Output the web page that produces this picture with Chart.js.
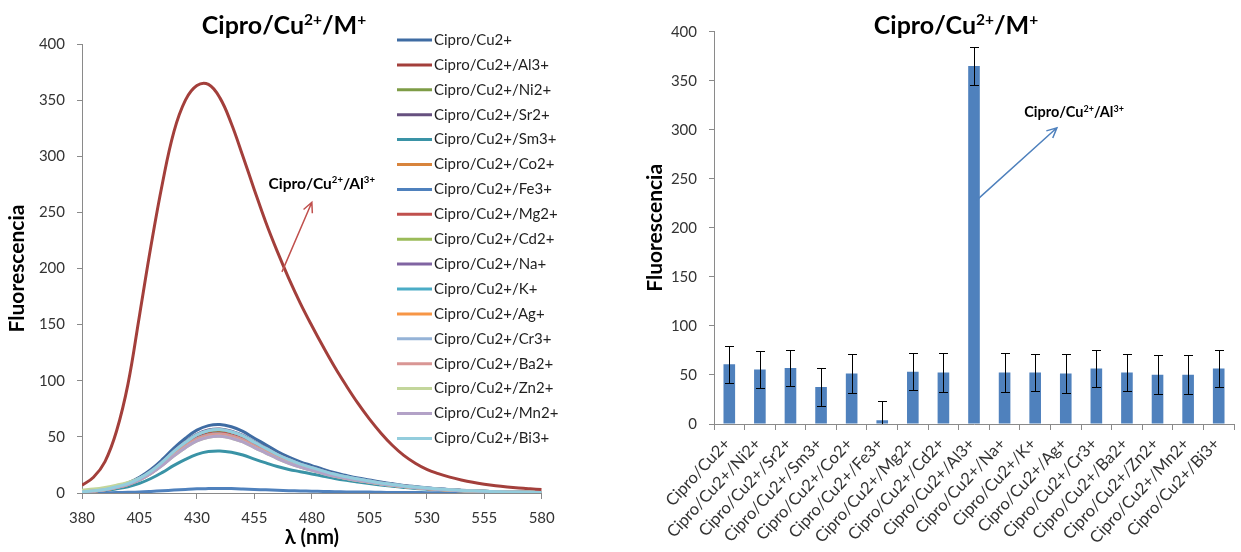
<!DOCTYPE html>
<html>
<head>
<meta charset="utf-8">
<script src="https://cdn.jsdelivr.net/npm/chart.js@4.4.1/dist/chart.umd.min.js"></script>
<style>
  html, body { margin: 0; padding: 0; background: #fff; }
  #wrap { position: relative; width: 1241px; height: 552px; overflow: hidden; }
  .box { position: absolute; top: 0; height: 552px; }
  #left { left: 0; width: 600px; }
  #right { left: 630px; width: 611px; }
</style>
</head>
<body>
<div id="wrap">
  <div class="box" id="left"><canvas id="spectraChart"></canvas></div>
  <div class="box" id="right"><canvas id="barChart"></canvas></div>
</div>
<script>
// ---------- data : emission spectra (left) ----------
const wavelengths = [380, 385, 390, 395, 400, 405, 410, 415, 420, 425, 430, 435, 440, 445, 450, 455, 460, 465, 470, 475,
  480, 485, 490, 495, 500, 505, 510, 515, 520, 525, 530, 535, 540, 545, 550, 555, 560, 565, 570, 575, 580];
const lambdaTicks = [380, 405, 430, 455, 480, 505, 530, 555, 580];
const fluoTicks = [0, 50, 100, 150, 200, 250, 300, 350, 400];

const cuSpec = [1.0, 2.0, 3.5, 6.0, 9.0, 14.0, 21.0, 29.9, 40.0, 48.8, 56.0, 60.0, 61.0, 59.0, 54.9, 48.8, 43.0, 37.0, 32.0, 27.8,
  24.4, 21.0, 18.0, 15.6, 13.4, 11.6, 9.8, 8.2, 6.8, 5.7, 4.7, 3.8, 3.1, 2.5, 2.0, 1.6, 1.3, 1.0, 0.9, 0.7, 0.5];
const alSpec = [7, 14, 28, 55, 97, 158, 220, 276, 322, 350, 363, 364, 352, 329, 300, 270, 241, 215, 191, 169,
  149, 130, 112, 95.5, 80, 66, 53.5, 42.5, 33.5, 26.5, 21, 17.2, 14.1, 11.6, 9.5, 7.8, 6.4, 5.3, 4.4, 3.7, 3.1];
const niSpec = [0.9, 1.8, 3.2, 5.4, 8.2, 12.8, 19.1, 27.2, 36.4, 44.4, 50.9, 54.6, 55.5, 53.7, 50.0, 44.4, 39.1, 33.7, 29.1, 25.3,
  22.2, 19.1, 16.4, 14.2, 12.2, 10.5, 8.9, 7.5, 6.2, 5.2, 4.3, 3.5, 2.8, 2.3, 1.8, 1.5, 1.2, 0.9, 0.8, 0.6, 0.5];
const srSpec = [0.9, 1.9, 3.2, 5.6, 8.4, 13.1, 19.6, 27.9, 37.4, 45.6, 52.3, 56.1, 57.0, 55.1, 51.3, 45.6, 40.2, 34.6, 29.9, 25.9,
  22.8, 19.7, 16.8, 14.5, 12.5, 10.8, 9.1, 7.7, 6.4, 5.3, 4.4, 3.6, 2.9, 2.3, 1.9, 1.5, 1.3, 1.0, 0.8, 0.6, 0.5];
const smSpec = [0.6, 1.2, 2.1, 3.7, 5.6, 8.6, 12.9, 18.4, 24.6, 30.0, 34.4, 36.9, 37.5, 36.3, 33.8, 30.2, 26.8, 23.6, 21.0, 19.0,
  17.0, 15.0, 13.0, 11.3, 9.8, 8.4, 7.1, 6.0, 5.0, 4.1, 3.4, 2.8, 2.2, 1.8, 1.4, 1.1, 0.9, 0.7, 0.6, 0.4, 0.3];
const coSpec = [0.8, 1.7, 2.9, 5.0, 7.6, 11.8, 17.7, 25.2, 33.8, 41.2, 47.3, 50.7, 51.5, 49.8, 46.4, 41.2, 36.3, 31.3, 27.0, 23.4,
  20.6, 17.8, 15.2, 13.1, 11.3, 9.8, 8.2, 7.0, 5.8, 4.8, 4.0, 3.2, 2.6, 2.1, 1.7, 1.4, 1.1, 0.9, 0.7, 0.6, 0.5];
const feSpec = [0, 0.1, 0.2, 0.4, 0.6, 0.9, 1.4, 2.0, 2.6, 3.2, 3.7, 3.9, 4.0, 3.9, 3.6, 3.2, 2.8, 2.4, 2.1, 1.8,
  1.6, 1.4, 1.2, 1.0, 0.9, 0.8, 0.6, 0.5, 0.4, 0.4, 0.3, 0.3, 0.2, 0.2, 0.1, 0.1, 0.1, 0.1, 0.1, 0, 0];
const mgSpec = [0.9, 1.8, 3.0, 5.2, 7.9, 12.3, 18.4, 26.2, 35.1, 42.8, 49.1, 52.6, 53.5, 51.7, 48.2, 42.8, 37.7, 32.5, 28.1, 24.3,
  21.4, 18.5, 15.8, 13.6, 11.8, 10.2, 8.6, 7.2, 6.0, 5.0, 4.1, 3.4, 2.7, 2.2, 1.8, 1.4, 1.2, 0.9, 0.7, 0.6, 0.5];
const cdSpec = [0.8, 1.7, 3.0, 5.1, 7.8, 12.1, 18.1, 25.7, 34.4, 42.0, 48.2, 51.7, 52.5, 50.8, 47.3, 42.0, 37.0, 31.9, 27.6, 23.9,
  21.0, 18.1, 15.5, 13.4, 11.6, 10.0, 8.4, 7.1, 5.9, 4.9, 4.0, 3.3, 2.7, 2.2, 1.7, 1.4, 1.2, 0.9, 0.7, 0.6, 0.5];
const naSpec = [0.8, 1.7, 3.0, 5.1, 7.8, 12.1, 18.0, 25.6, 34.4, 42.0, 48.3, 51.8, 52.5, 50.8, 47.2, 42.0, 37.0, 31.9, 27.6, 23.9,
  21.0, 18.1, 15.5, 13.4, 11.6, 10.0, 8.4, 7.1, 5.9, 4.9, 4.0, 3.3, 2.7, 2.2, 1.7, 1.4, 1.2, 0.9, 0.7, 0.6, 0.5];
const kSpec = [0.8, 1.7, 3.0, 5.1, 7.8, 12.2, 18.1, 25.8, 34.5, 42.1, 48.2, 51.7, 52.4, 50.7, 47.3, 42.1, 37.0, 31.9, 27.6, 23.9,
  21.0, 18.1, 15.5, 13.4, 11.6, 10.0, 8.4, 7.1, 5.9, 4.9, 4.0, 3.3, 2.7, 2.2, 1.7, 1.4, 1.2, 0.9, 0.7, 0.6, 0.5];
const agSpec = [0.8, 1.7, 2.9, 5.0, 7.6, 11.8, 17.7, 25.2, 33.8, 41.2, 47.3, 50.7, 51.4, 49.8, 46.4, 41.2, 36.3, 31.3, 27.0, 23.4,
  20.6, 17.8, 15.2, 13.1, 11.3, 9.8, 8.2, 7.0, 5.8, 4.8, 4.0, 3.2, 2.6, 2.1, 1.7, 1.4, 1.1, 0.9, 0.7, 0.6, 0.5];
const crSpec = [0.9, 1.9, 3.2, 5.5, 8.4, 13.0, 19.4, 27.7, 37.1, 45.2, 51.9, 55.6, 56.5, 54.6, 50.9, 45.2, 39.8, 34.3, 29.7, 25.7,
  22.6, 19.5, 16.7, 14.4, 12.4, 10.7, 9.0, 7.6, 6.3, 5.3, 4.4, 3.6, 2.9, 2.3, 1.9, 1.5, 1.2, 1.0, 0.8, 0.6, 0.5];
const baSpec = [0.8, 1.7, 3.0, 5.1, 7.8, 12.1, 18.1, 25.7, 34.4, 42.0, 48.2, 51.7, 52.5, 50.8, 47.3, 42.0, 37.0, 31.9, 27.6, 23.9,
  21.0, 18.1, 15.5, 13.4, 11.6, 10.0, 8.4, 7.1, 5.9, 4.9, 4.0, 3.3, 2.7, 2.2, 1.7, 1.4, 1.2, 0.9, 0.7, 0.6, 0.5];
const znSpec = [2.5, 3.5, 5.0, 7.0, 9.5, 13.0, 18.0, 25.0, 33.1, 40.4, 46.4, 49.7, 50.5, 48.8, 45.5, 40.4, 35.6, 30.7, 26.5, 23.0,
  20.2, 17.4, 14.9, 12.9, 11.1, 9.6, 8.1, 6.8, 5.7, 4.7, 3.9, 3.2, 2.6, 2.1, 1.7, 1.4, 1.1, 0.9, 0.7, 0.6, 0.5];
const mnSpec = [0.8, 1.7, 2.9, 4.9, 7.5, 11.6, 17.4, 24.7, 33.1, 40.4, 46.4, 49.7, 50.5, 48.8, 45.5, 40.4, 35.6, 30.7, 26.5, 23.0,
  20.2, 17.4, 14.9, 12.9, 11.1, 9.6, 8.1, 6.8, 5.7, 4.7, 3.9, 3.2, 2.6, 2.1, 1.7, 1.4, 1.1, 0.9, 0.7, 0.6, 0.5];
const biSpec = [0.9, 1.9, 3.2, 5.5, 8.4, 13.0, 19.4, 27.7, 37.1, 45.2, 51.9, 55.6, 56.5, 54.6, 50.9, 45.2, 39.8, 34.3, 29.7, 25.7,
  22.6, 19.5, 16.7, 14.4, 12.4, 10.7, 9.0, 7.6, 6.3, 5.3, 4.4, 3.6, 2.9, 2.3, 1.9, 1.5, 1.2, 1.0, 0.8, 0.6, 0.5];

const seriesNames = ['Cipro/Cu2+', 'Cipro/Cu2+/Al3+', 'Cipro/Cu2+/Ni2+', 'Cipro/Cu2+/Sr2+', 'Cipro/Cu2+/Sm3+',
  'Cipro/Cu2+/Co2+', 'Cipro/Cu2+/Fe3+', 'Cipro/Cu2+/Mg2+', 'Cipro/Cu2+/Cd2+', 'Cipro/Cu2+/Na+', 'Cipro/Cu2+/K+',
  'Cipro/Cu2+/Ag+', 'Cipro/Cu2+/Cr3+', 'Cipro/Cu2+/Ba2+', 'Cipro/Cu2+/Zn2+', 'Cipro/Cu2+/Mn2+', 'Cipro/Cu2+/Bi3+'];
const seriesData = [cuSpec, alSpec, niSpec, srSpec, smSpec, coSpec, feSpec, mgSpec, cdSpec, naSpec, kSpec,
  agSpec, crSpec, baSpec, znSpec, mnSpec, biSpec];
const seriesColors = ['#3F6CA3', '#A33F3B', '#7E9C46', '#66507F', '#3A93A6', '#D8843C', '#4F81BD', '#C0504D',
  '#9BBB59', '#8064A2', '#4BACC6', '#F79646', '#95B3D7', '#D99694', '#C3D69B', '#B3A2C7', '#93CDDD'];

// ---------- data : peak intensities (right) ----------
const barLabels = ['Cipro/Cu2+', 'Cipro/Cu2+/Ni2+', 'Cipro/Cu2+/Sr2+', 'Cipro/Cu2+/Sm3+', 'Cipro/Cu2+/Co2+',
  'Cipro/Cu2+/Fe3+', 'Cipro/Cu2+/Mg2+', 'Cipro/Cu2+/Cd2+', 'Cipro/Cu2+/Al3+', 'Cipro/Cu2+/Na+', 'Cipro/Cu2+/K+',
  'Cipro/Cu2+/Ag+', 'Cipro/Cu2+/Cr3+', 'Cipro/Cu2+/Ba2+', 'Cipro/Cu2+/Zn2+', 'Cipro/Cu2+/Mn2+', 'Cipro/Cu2+/Bi3+'];
const barValues = [61, 55.5, 57.2, 37.7, 51.4, 3.8, 53.4, 52.4, 365, 52.4, 52.4, 51.4, 56.5, 52.4, 50.3, 50.3, 56.5];
const barErrors = [18.9, 19, 18.7, 19.2, 19.5, 19.2, 18.6, 19.6, 19, 19.6, 18.6, 19.6, 19.2, 18.6, 19.7, 19.7, 19.2];

// ---------- shared style ----------
const FONT = 'Lato';
const AXIS_GRAY = '#8a8a8a';
const TEXT_DARK = '#333333';
Chart.defaults.font.family = FONT;
Chart.defaults.color = TEXT_DARK;

const titleParts = [['Cipro/Cu', false], ['2+', true], ['/M', false], ['+', true]];
const alParts = [['Cipro/Cu', false], ['2+', true], ['/Al', false], ['3+', true]];

function drawRich(ctx, parts, cx, cy, size, color) {
  ctx.save();
  ctx.fillStyle = color;
  ctx.textBaseline = 'alphabetic';
  const fonts = parts.map(p => 'bold ' + (p[1] ? size * 0.62 : size) + 'px ' + FONT);
  let total = 0;
  parts.forEach((p, i) => { ctx.font = fonts[i]; total += ctx.measureText(p[0]).width; });
  let x = cx - total / 2;
  const base = cy + size * 0.36;
  parts.forEach((p, i) => {
    ctx.font = fonts[i];
    ctx.fillText(p[0], x, p[1] ? base - size * 0.38 : base);
    x += ctx.measureText(p[0]).width;
  });
  ctx.restore();
}

function drawArrow(ctx, x1, y1, x2, y2, color) {
  const ang = Math.atan2(y2 - y1, x2 - x1);
  const head = 11;
  ctx.save();
  ctx.strokeStyle = color;
  ctx.lineWidth = 1.5;
  ctx.beginPath();
  ctx.moveTo(x1, y1);
  ctx.lineTo(x2, y2);
  ctx.moveTo(x2 - head * Math.cos(ang - 0.45), y2 - head * Math.sin(ang - 0.45));
  ctx.lineTo(x2, y2);
  ctx.lineTo(x2 - head * Math.cos(ang + 0.45), y2 - head * Math.sin(ang + 0.45));
  ctx.stroke();
  ctx.restore();
}

// titre + annotation + légende du spectre
const spectraDecor = {
  id: 'spectraDecor',
  afterDraw(chart) {
    const { ctx, scales: { x, y } } = chart;
    drawRich(ctx, titleParts, 284, 25, 25, '#000');
    drawArrow(ctx, x.getPixelForValue(467), y.getPixelForValue(197), x.getPixelForValue(480), y.getPixelForValue(259), '#C0504D');
    drawRich(ctx, alParts, x.getPixelForValue(484.3), y.getPixelForValue(276), 15.5, '#000');

    ctx.save();
    ctx.font = '15px ' + FONT;
    ctx.textBaseline = 'middle';
    chart.data.datasets.forEach((ds, i) => {
      const ly = 40 + i * 24.9;
      ctx.strokeStyle = ds.borderColor;
      ctx.lineWidth = 3;
      ctx.beginPath();
      ctx.moveTo(397, ly);
      ctx.lineTo(432, ly);
      ctx.stroke();
      ctx.fillStyle = '#1f1f1f';
      ctx.fillText(ds.label, 434, ly);
    });
    ctx.restore();
  }
};

const barDecor = {
  id: 'barDecor',
  afterDatasetsDraw(chart) {
    const { ctx, chartArea, scales: { y } } = chart;
    const meta = chart.getDatasetMeta(0);
    ctx.save();
    ctx.beginPath();
    ctx.rect(chartArea.left, chartArea.top - 20, chartArea.right - chartArea.left, chartArea.bottom - chartArea.top + 20);
    ctx.clip();
    ctx.strokeStyle = '#000';
    ctx.lineWidth = 1;
    meta.data.forEach((bar, i) => {
      const top = Math.round(y.getPixelForValue(barValues[i] + barErrors[i])) + 0.5;
      const bot = Math.round(y.getPixelForValue(barValues[i] - barErrors[i])) + 0.5;
      const bx = Math.round(bar.x) + 0.5;
      ctx.beginPath();
      ctx.moveTo(bx, top); ctx.lineTo(bx, bot);
      ctx.moveTo(bx - 4.5, top); ctx.lineTo(bx + 4.5, top);
      ctx.moveTo(bx - 4.5, bot); ctx.lineTo(bx + 4.5, bot);
      ctx.stroke();
    });
    ctx.restore();
  },
  afterDraw(chart) {
    const { ctx, scales: { x, y } } = chart;
    drawRich(ctx, titleParts, 326, 25, 25, '#000');
    drawArrow(ctx, x.getPixelForValue(8.08), y.getPixelForValue(228), x.getPixelForValue(10.71), y.getPixelForValue(302), '#4F81BD');
    drawRich(ctx, alParts, x.getPixelForValue(11.27), y.getPixelForValue(318), 14.5, '#000');
  }
};

function axisY(titleOffset, width) {
  return {
    min: 0,
    max: 400,
    afterBuildTicks: s => { s.ticks = fluoTicks.map(v => ({ value: v })); },
    afterFit: s => { s.width = width; },
    border: { color: AXIS_GRAY, width: 1 },
    grid: { drawOnChartArea: false, drawTicks: true, tickLength: 5, color: AXIS_GRAY },
    ticks: { padding: 12, color: TEXT_DARK, font: { size: 15 } },
    title: { display: true, text: 'Fluorescencia', color: '#000', font: { size: 21, weight: 'bold' }, padding: { top: titleOffset, bottom: 0 } }
  };
}

// ---------- left : spectra ----------
new Chart(document.getElementById('spectraChart'), {
  type: 'line',
  data: {
    datasets: seriesNames.map((name, i) => ({
      label: name,
      data: wavelengths.map((w, j) => ({ x: w, y: seriesData[i][j] })),
      borderColor: seriesColors[i],
      backgroundColor: seriesColors[i],
      borderWidth: 3,
      pointRadius: 0,
      tension: 0.4,
      fill: false,
      order: -i
    }))
  },
  options: {
    responsive: true,
    maintainAspectRatio: false,
    animation: false,
    layout: { padding: { top: 44, right: 58.3, left: 0, bottom: 0 } },
    plugins: { legend: { display: false }, title: { display: false }, tooltip: { enabled: false } },
    scales: {
      x: {
        type: 'linear',
        min: 380,
        max: 580,
        afterBuildTicks: s => { s.ticks = lambdaTicks.map(v => ({ value: v })); },
        afterFit: s => { s.height = 59; },
        border: { color: AXIS_GRAY, width: 1 },
        grid: { drawOnChartArea: false, drawTicks: true, tickLength: 6, color: AXIS_GRAY },
        ticks: { padding: 10, color: TEXT_DARK, font: { size: 15 }, maxRotation: 0 },
        title: { display: true, text: 'λ (nm)', color: '#000', font: { size: 20, weight: 'bold' }, padding: { top: 0, bottom: 2 } }
      },
      y: axisY(5, 82)
    }
  },
  plugins: [spectraDecor]
});

// ---------- right : bars with error bars ----------
new Chart(document.getElementById('barChart'), {
  type: 'bar',
  data: {
    labels: barLabels,
    datasets: [{
      label: 'Fluorescencia',
      data: barValues,
      backgroundColor: '#4F81BD',
      borderWidth: 0,
      barPercentage: 0.38,
      categoryPercentage: 1
    }]
  },
  options: {
    responsive: true,
    maintainAspectRatio: false,
    animation: false,
    layout: { padding: { top: 31.7, right: 7, left: 0, bottom: 0 } },
    plugins: { legend: { display: false }, title: { display: false }, tooltip: { enabled: false } },
    scales: {
      x: {
        afterFit: s => { s.height = 128; },
        border: { color: AXIS_GRAY, width: 1 },
        grid: { drawOnChartArea: false, drawTicks: true, tickLength: 6, color: AXIS_GRAY, offset: true },
        ticks: { padding: 4, labelOffset: -2, color: TEXT_DARK, font: { size: 16.5 }, minRotation: 47, maxRotation: 47, autoSkip: false }
      },
      y: axisY(13, 84)
    }
  },
  plugins: [barDecor]
});
</script>
</body>
</html>
